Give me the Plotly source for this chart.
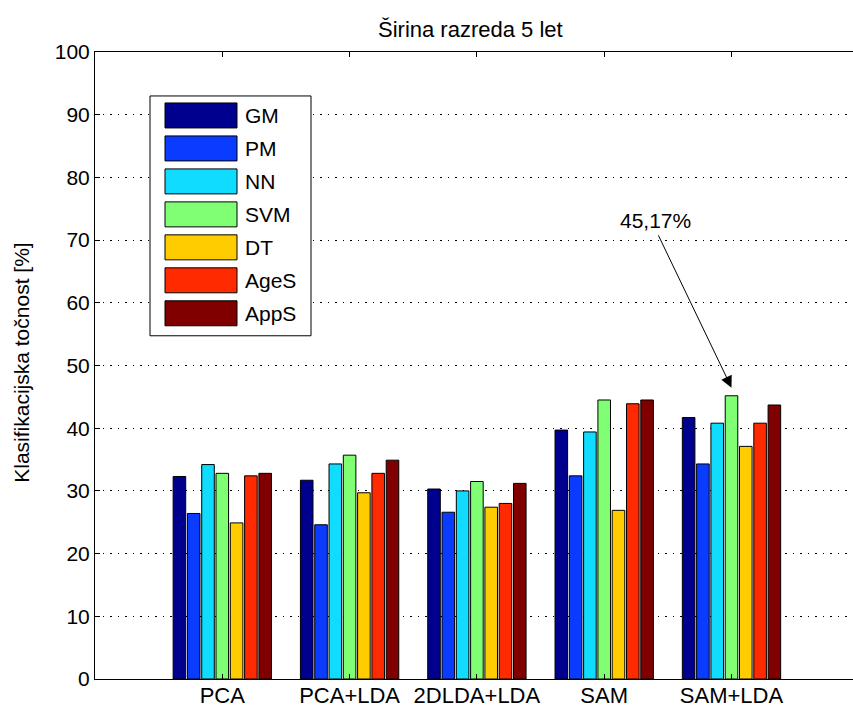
import plotly.graph_objects as go

# Feature-extraction methods (x categories)
methods = ["PCA", "PCA+LDA", "2DLDA+LDA", "SAM", "SAM+LDA"]

# Classifiers (one bar series each) and their accuracy [%]
classifiers = ["GM", "PM", "NN", "SVM", "DT", "AgeS", "AppS"]
acc_gm = [32.3, 31.7, 30.3, 39.7, 41.7]
acc_pm = [26.4, 24.6, 26.6, 32.4, 34.3]
acc_nn = [34.2, 34.3, 30.0, 39.4, 40.8]
acc_svm = [32.8, 35.7, 31.5, 44.5, 45.17]
acc_dt = [24.9, 29.7, 27.4, 26.9, 37.1]
acc_ages = [32.4, 32.8, 28.0, 43.9, 40.8]
acc_apps = [32.8, 34.9, 31.2, 44.5, 43.7]
series = [acc_gm, acc_pm, acc_nn, acc_svm, acc_dt, acc_ages, acc_apps]

colors = ["#00008f", "#0a3cff", "#10dcff", "#80ff74", "#ffcc00", "#ff2a00", "#800000"]

y_ticks = list(range(0, 101, 10))

FONT = "Liberation Sans, Arial, sans-serif"
FS = 21
FS_BIG = 22

W, H = 853, 709
L, R, T, B = 95, 0, 52, 29.5
PW, PH = W - L - R, H - T - B


def px(xp):
    return (xp - L) / PW


def py(yp):
    return (H - B - yp) / PH


fig = go.Figure()
xs = list(range(1, len(methods) + 1))
for name, vals, col in zip(classifiers, series, colors):
    fig.add_trace(go.Bar(
        x=xs, y=vals, name=name,
        marker=dict(color=col, line=dict(color="black", width=1)),
        showlegend=False,
    ))

# Hand-built legend box with wide colour patches
shapes = [dict(type="rect", xref="paper", yref="paper",
               x0=px(150), x1=px(311), y0=py(336), y1=py(96),
               fillcolor="white", line=dict(color="black", width=1), layer="above")]
annotations = []
for i, (name, col) in enumerate(zip(classifiers, colors)):
    top = 103 + i * 33
    shapes.append(dict(type="rect", xref="paper", yref="paper",
                       x0=px(165), x1=px(237), y0=py(top + 25), y1=py(top),
                       fillcolor=col, line=dict(color="black", width=1), layer="above"))
    annotations.append(dict(xref="paper", yref="paper", x=px(243), y=py(top + 12.5),
                            text=name, showarrow=False, xanchor="left", yanchor="middle",
                            font=dict(family=FONT, size=FS, color="black")))

# Callout for the best result
best_idx = methods.index("SAM+LDA")
best_val = acc_svm[best_idx]
label = f"{best_val:.2f}".replace(".", ",") + "%"
annotations.append(dict(x=best_idx + 1, y=best_val + 1.3, ax=4.42, ay=71.0,
                        xref="x", yref="y", axref="x", ayref="y", text="",
                        showarrow=True, arrowhead=2, arrowsize=2.3, arrowwidth=1,
                        arrowcolor="black"))
annotations.append(dict(x=4.40, y=73.2, xref="x", yref="y", text=label, showarrow=False,
                        xanchor="center", yanchor="middle",
                        font=dict(family=FONT, size=FS, color="black")))

# Title and y-axis label
annotations.append(dict(xref="paper", yref="paper", x=px(470), y=py(29),
                        text="Širina razreda 5 let", showarrow=False,
                        xanchor="center", yanchor="middle",
                        font=dict(family=FONT, size=FS_BIG, color="black")))
annotations.append(dict(xref="paper", yref="paper", x=px(22), y=py(363),
                        text="Klasifikacijska točnost [%]", showarrow=False, textangle=-90,
                        xanchor="center", yanchor="middle",
                        font=dict(family=FONT, size=FS, color="black")))

fig.update_layout(
    width=W, height=H,
    margin=dict(l=L, r=R, t=T, b=B, pad=0, autoexpand=False),
    paper_bgcolor="white", plot_bgcolor="white",
    barmode="group", bargap=0.214, bargroupgap=0.12,
    shapes=shapes, annotations=annotations,
    font=dict(family=FONT, size=FS, color="black"),
)
fig.update_xaxes(
    range=[0, PW / 127.3], tickvals=xs, ticktext=methods, automargin=False,
    showline=True, linecolor="black", linewidth=1, mirror="ticks",
    ticks="inside", ticklen=5, tickcolor="black", showgrid=False, zeroline=False,
    ticklabelstandoff=-3,
    tickfont=dict(family=FONT, size=FS_BIG, color="black"),
)
fig.update_yaxes(
    range=[0, 100], tickvals=y_ticks, automargin=False,
    showline=True, linecolor="black", linewidth=1, mirror=False,
    ticks="inside", ticklen=5, tickcolor="black",
    showgrid=True, gridcolor="black", gridwidth=1, griddash="1.5px,6px",
    zeroline=False,
    tickfont=dict(family=FONT, size=FS, color="black"),
)

fig.write_html("out.html")
